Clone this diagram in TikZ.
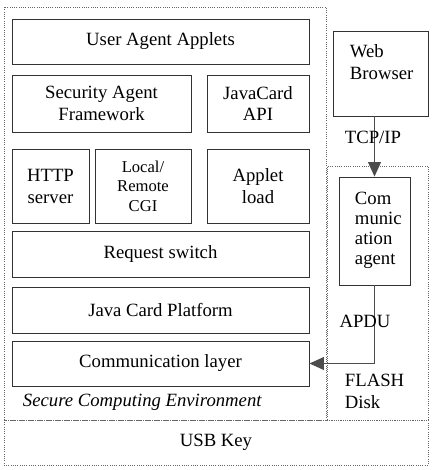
\documentclass[tikz,border=0pt]{standalone}
\usepackage{fontspec}
\setmainfont{Liberation Serif}
\usetikzlibrary{arrows.meta}
\begin{document}
\begin{tikzpicture}[x=0.025cm, y=-0.025cm,
  font=\fontsize{13.3}{15.6}\selectfont,
  box/.style={draw=black!80, line width=0.6pt, align=center, inner sep=0pt},
  zone/.style={draw=black!60, densely dotted, line width=0.6pt, inner sep=0pt},
  link/.style={draw=black!70, line width=0.8pt, -{Triangle[length=0.36cm, width=0.32cm]}}]
  \useasboundingbox (0,0) rectangle (434,470);
  % === Secure Computing Environment ===
  \node[zone, minimum width=8.05cm, minimum height=10.325cm] (sce) at (165,213.5) {};
  \node[box, minimum width=7.425cm, minimum height=1.125cm] (uaa) at (160.5,41.5) {User Agent Applets};
  \node[box, minimum width=4.475cm, minimum height=1.425cm] (saf) at (101.5,103.5) {Security Agent\\Framework};
  \node[box, minimum width=2.55cm, minimum height=1.425cm] (jca) at (258,103.5) {JavaCard\\API};
  \node[box, minimum width=1.925cm, minimum height=1.85cm] (http) at (50.5,186) {HTTP\\server};
  \node[box, minimum width=2.4cm, minimum height=1.85cm, font=\fontsize{11.8}{13.8}\selectfont] (cgi) at (143,186) {Local/\\Remote\\CGI};
  \node[box, minimum width=2.55cm, minimum height=1.85cm] (apl) at (258,186) {Applet\\load};
  \node[box, minimum width=7.425cm, minimum height=1.15cm] (rsw) at (160.5,254) {Request switch};
  \node[box, minimum width=7.425cm, minimum height=1.15cm] (jcp) at (160.5,310) {Java Card Platform};
  \node[box, minimum width=7.425cm, minimum height=1.125cm] (cml) at (160.5,363.5) {Communication layer};
  \node[anchor=west, font=\fontsize{13.3}{15.6}\selectfont\itshape] (scel) at (18,402) {Secure Computing Environment};
  % === Web Browser ===
  \node[box, minimum width=2.375cm, minimum height=2.125cm] (web) at (380.5,73.5) {};
  \node[anchor=north west, align=left] (webl) at (345,40) {Web\\Browser};
  % === FLASH Disk ===
  \node[zone, minimum width=2.525cm, minimum height=6.35cm] (flash) at (377.5,293) {};
  \node[box, minimum width=1.775cm, minimum height=2.7cm] (agt) at (374.5,231) {};
  \node[anchor=north west, align=left, font=\fontsize{13.3}{14.2}\selectfont] (agtl) at (350,187) {Com\\munic\\ation\\agent};
  \node[anchor=west, align=left] (flashl) at (340,391) {FLASH\\Disk};
  % === USB Key ===
  \node[zone, minimum width=10.6cm, minimum height=1.125cm] (usb) at (216,442.5) {USB Key};
  % === Links ===
  \draw[link] (agt.north |- web.south) -- (agt.north);
  \node (tcp) at (373,137) {TCP/IP};
  \draw[link] (agt.south) |- (cml.east);
  \node (apdu) at (365,321) {APDU};
\end{tikzpicture}
\end{document}
